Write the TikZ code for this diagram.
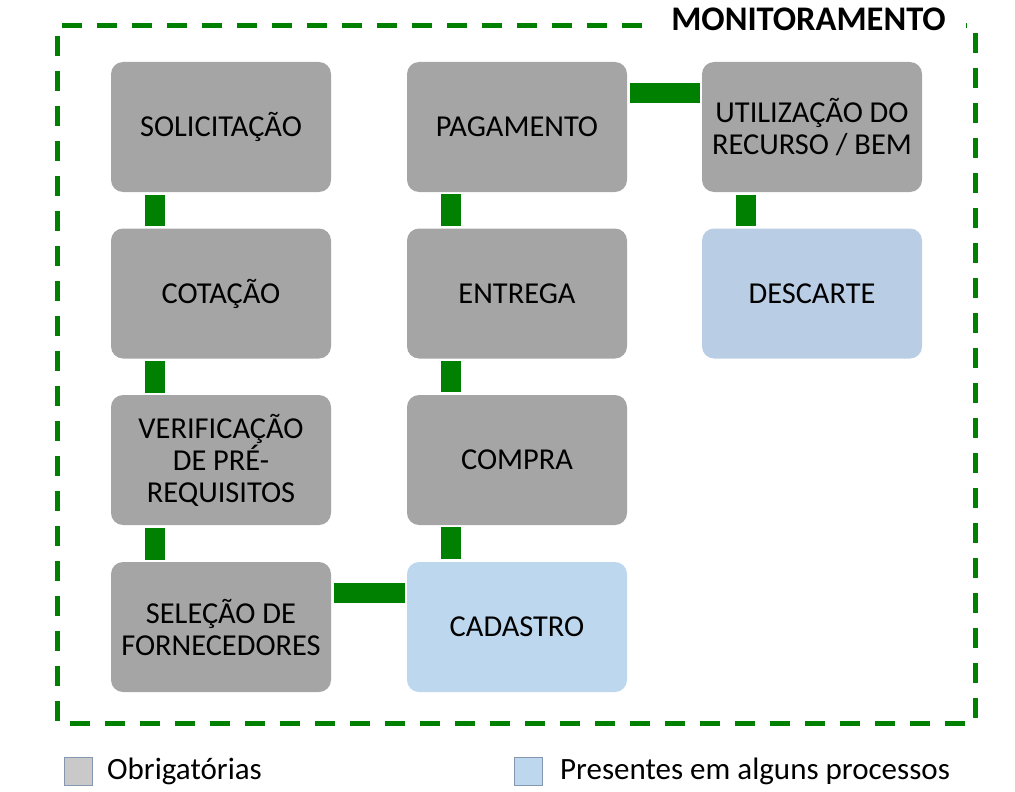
\documentclass[tikz,border=0pt]{standalone}
\usepackage{fontspec}
\setmainfont{Carlito}
\definecolor{boxgrey}{HTML}{A5A5A5}
\definecolor{boxblue}{HTML}{BDD7EE}
\definecolor{boxblue2}{HTML}{B9CDE5}
\definecolor{lineGreen}{HTML}{008000}
\definecolor{leggrey}{HTML}{C9C9C9}
\definecolor{legedge}{HTML}{8497B0}
\begin{document}
\begin{tikzpicture}[x=1pt,y=-1pt,
  procbox/.style={rounded corners=12pt, minimum width=220pt, minimum height=130pt,
    align=center, inner sep=0pt, text=black,
    font=\fontsize{30.4}{32}\selectfont},
  greybox/.style={procbox, fill=boxgrey},
  bluebox/.style={procbox, fill=boxblue},
  conn/.style={draw=lineGreen, line width=20pt, shorten <=2.5pt, shorten >=2pt},
  frame/.style={draw=lineGreen, line width=5pt, dash pattern=on 20pt off 15pt},
  legsq/.style={draw=legedge, line width=0.8pt, minimum size=28pt, inner sep=0pt},
  legtxt/.style={anchor=west, inner sep=0pt, font=\fontsize{31}{34}\selectfont}
]
\useasboundingbox (0,0) rectangle (1015,792);

% frame
\coordinate (fa) at (642,26);
\coordinate (fb) at (57,26);
\coordinate (fc) at (57,723);
\coordinate (fd) at (975,723);
\coordinate (fe) at (975,26);
\coordinate (ff) at (966,26);
\draw[frame] (fa) -- (fb) -- (fc) -- (fd) -- (fe) -- (ff);
\node[anchor=base, inner sep=0pt, font=\fontsize{34.5}{38}\selectfont\bfseries] (title) at (808.5,31) {MONITORAMENTO};

% boxes
\node[greybox] (sol) at (221,127) {SOLICITAÇÃO};
\node[greybox] (cot) at (221,293.5) {COTAÇÃO};
\node[greybox] (ver) at (221,460) {VERIFICAÇÃO\\DE PRÉ-\\REQUISITOS};
\node[greybox] (sel) at (221,627) {SELEÇÃO DE\\FORNECEDORES};
\node[greybox] (pag) at (517,127) {PAGAMENTO};
\node[greybox] (ent) at (517,293.5) {ENTREGA};
\node[greybox] (com) at (517,460) {COMPRA};
\node[bluebox] (cad) at (517,627) {CADASTRO};
\node[greybox] (uti) at (812,127) {UTILIZAÇÃO DO\\RECURSO / BEM};
\node[procbox, fill=boxblue2] (des) at (812,293.5) {DESCARTE};

% connectors
\draw[conn] ([xshift=-66pt]sol.south) -- ([xshift=-66pt]cot.north);
\draw[conn] ([xshift=-66pt]cot.south) -- ([xshift=-66pt]ver.north);
\draw[conn] ([xshift=-66pt]ver.south) -- ([xshift=-66pt]sel.north);
\draw[conn] ([yshift=34pt]sel.east) -- ([yshift=34pt]cad.west);
\draw[conn] ([xshift=-66pt]cad.north) -- ([xshift=-66pt]com.south);
\draw[conn] ([xshift=-66pt]com.north) -- ([xshift=-66pt]ent.south);
\draw[conn] ([xshift=-66pt]ent.north) -- ([xshift=-66pt]pag.south);
\draw[conn] ([yshift=34pt]pag.east) -- ([yshift=34pt]uti.west);
\draw[conn] ([xshift=-66pt]uti.south) -- ([xshift=-66pt]des.north);

% legend
\node[legsq, fill=leggrey] (lg1) at (78,771) {};
\node[legtxt] (lt1) at (107,771) {Obrigatórias};
\node[legsq, fill=boxblue] (lg2) at (528.5,771) {};
\node[legtxt] (lt2) at (560,771) {Presentes em alguns processos};
\end{tikzpicture}
\end{document}
